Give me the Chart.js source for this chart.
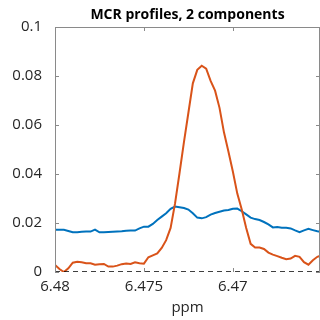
<!DOCTYPE html>
<html>
<head>
<meta charset="utf-8">
<script src="https://cdn.jsdelivr.net/npm/chart.js@4"></script>
<style>
  html, body { margin: 0; padding: 0; background: #fff; overflow: hidden; }
  #wrap { width: 320px; height: 320px; }
</style>
</head>
<body>
<div id="wrap"><canvas id="mcrChart" width="320" height="320"></canvas></div>
<script>
// chemical shift axis (ppm) and the two MCR component profiles
const ppm = [
  6.48, 6.47975, 6.4795, 6.47925, 6.479, 6.47875, 6.4785, 6.47825, 6.478, 6.47775,
  6.4775, 6.47725, 6.477, 6.47675, 6.4765, 6.47625, 6.476, 6.47575, 6.4755, 6.47525,
  6.475, 6.47475, 6.4745, 6.47425, 6.474, 6.47375, 6.4735, 6.47325, 6.473, 6.47275,
  6.4725, 6.47225, 6.472, 6.47175, 6.4715, 6.47125, 6.471, 6.47075, 6.4705, 6.47025,
  6.47, 6.46975, 6.4695, 6.46925, 6.469, 6.46875, 6.4685, 6.46825, 6.468, 6.46775,
  6.4675, 6.46725, 6.467, 6.46675, 6.4665, 6.46625, 6.466, 6.46575, 6.4655, 6.46525,
  6.465
];
const component1 = [
  0.0172, 0.0172, 0.0172, 0.0167, 0.0162, 0.0162, 0.0164, 0.0165, 0.0165, 0.0173,
  0.0162, 0.0162, 0.0163, 0.0164, 0.0165, 0.0166, 0.0168, 0.0169, 0.0169, 0.0178,
  0.0185, 0.0185, 0.0196, 0.0212, 0.0226, 0.0240, 0.0258, 0.0267, 0.0264, 0.0261,
  0.0255, 0.0240, 0.0222, 0.0219, 0.0224, 0.0234, 0.0241, 0.0246, 0.0251, 0.0253,
  0.0258, 0.0259, 0.0248, 0.0235, 0.0222, 0.0216, 0.0212, 0.0204, 0.0194, 0.0182,
  0.0184, 0.0181, 0.0181, 0.0178, 0.0170, 0.0163, 0.0170, 0.0176, 0.0171, 0.0166,
  0.0164
];
const component2 = [
  0.0029, 0.0012, 0.0000, 0.0015, 0.0038, 0.0042, 0.0040, 0.0036, 0.0036, 0.0030,
  0.0032, 0.0033, 0.0022, 0.0022, 0.0026, 0.0032, 0.0035, 0.0033, 0.0040, 0.0036,
  0.0034, 0.0060, 0.0068, 0.0076, 0.0098, 0.0130, 0.0180, 0.0280, 0.0403, 0.0530,
  0.0650, 0.0770, 0.0825, 0.0842, 0.0830, 0.0780, 0.0740, 0.0670, 0.0570, 0.0492,
  0.0410, 0.0320, 0.0255, 0.0180, 0.0115, 0.0100, 0.0100, 0.0094, 0.0079, 0.0071,
  0.0065, 0.0058, 0.0052, 0.0055, 0.0066, 0.0062, 0.0040, 0.0030, 0.0048, 0.0062,
  0.0068
];
const xTicks = [6.48, 6.475, 6.47];
const yTicks = [0, 0.02, 0.04, 0.06, 0.08, 0.1];
const chartTitle = 'MCR profiles, 2 components';

const axisGray = '#8a8a8a';
const textCol = '#262626';

const toXY = (ys) => ppm.map((x, i) => ({ x: x, y: ys[i] }));

// MATLAB-like box with inward tick marks, title centred over the axes
const boxTicks = {
  id: 'boxTicks',
  afterDraw(chart) {
    const { ctx, chartArea: a, scales: { x, y } } = chart;
    ctx.save();
    ctx.strokeStyle = axisGray;
    ctx.lineWidth = 1;
    ctx.beginPath();
    ctx.moveTo(a.left + 0.5, a.bottom);
    ctx.lineTo(a.left + 0.5, a.top + 0.5);
    ctx.lineTo(a.right - 0.5, a.top + 0.5);
    ctx.lineTo(a.right - 0.5, a.bottom);
    yTicks.forEach(v => {
      const py = Math.round(y.getPixelForValue(v)) + 0.5;
      ctx.moveTo(a.left, py); ctx.lineTo(a.left + 4, py);
      ctx.moveTo(a.right, py); ctx.lineTo(a.right - 4, py);
    });
    xTicks.forEach(v => {
      const px = Math.round(x.getPixelForValue(v)) + 0.5;
      ctx.moveTo(px, a.bottom); ctx.lineTo(px, a.bottom - 4);
      ctx.moveTo(px, a.top); ctx.lineTo(px, a.top + 4);
    });
    ctx.stroke();

    ctx.fillStyle = '#000';
    ctx.font = 'bold 14px "Open Sans"';
    ctx.textAlign = 'center';
    ctx.textBaseline = 'middle';
    ctx.fillText(chartTitle, (a.left + a.right) / 2, 15);
    ctx.restore();
  }
};

new Chart(document.getElementById('mcrChart').getContext('2d'), {
  type: 'line',
  data: {
    datasets: [
      {
        data: [{ x: 6.48, y: 0 }, { x: 6.4651, y: 0 }],
        borderColor: '#000',
        borderWidth: 1.5,
        borderDash: [5, 4],
        pointRadius: 0,
        order: 0
      },
      {
        label: 'Component 1',
        data: toXY(component1),
        borderColor: '#0072BD',
        borderWidth: 2,
        pointRadius: 0,
        tension: 0,
        order: 2
      },
      {
        label: 'Component 2',
        data: toXY(component2),
        borderColor: '#D95319',
        borderWidth: 2,
        pointRadius: 0,
        tension: 0,
        order: 1
      }
    ]
  },
  options: {
    responsive: false,
    animation: false,
    events: [],
    layout: { padding: { left: 0, right: 0, top: 27, bottom: 0 } },
    plugins: {
      legend: { display: false },
      tooltip: { enabled: false },
      title: { display: false }
    },
    scales: {
      x: {
        type: 'linear',
        reverse: true,
        min: 6.4651,
        max: 6.48,
        afterBuildTicks: (s) => { s.ticks = xTicks.map(v => ({ value: v })); },
        afterFit: (s) => { s.height = 48; },
        grid: { display: false },
        border: { display: false },
        ticks: {
          color: textCol,
          font: { family: 'Open Sans', size: 15 },
          padding: -2,
          maxRotation: 0,
          autoSkip: false,
          callback: (v) => String(v)
        },
        title: {
          display: true,
          text: 'ppm',
          color: textCol,
          font: { family: 'Open Sans', size: 15 },
          padding: { top: 0, bottom: 3 }
        }
      },
      y: {
        min: 0,
        max: 0.1,
        afterBuildTicks: (s) => { s.ticks = yTicks.map(v => ({ value: v })); },
        afterFit: (s) => { s.width = 55; },
        grid: { display: false },
        border: { display: false },
        ticks: {
          color: textCol,
          font: { family: 'Open Sans', size: 15 },
          padding: 5,
          callback: (v) => String(v)
        }
      }
    }
  },
  plugins: [boxTicks]
});
</script>
</body>
</html>
